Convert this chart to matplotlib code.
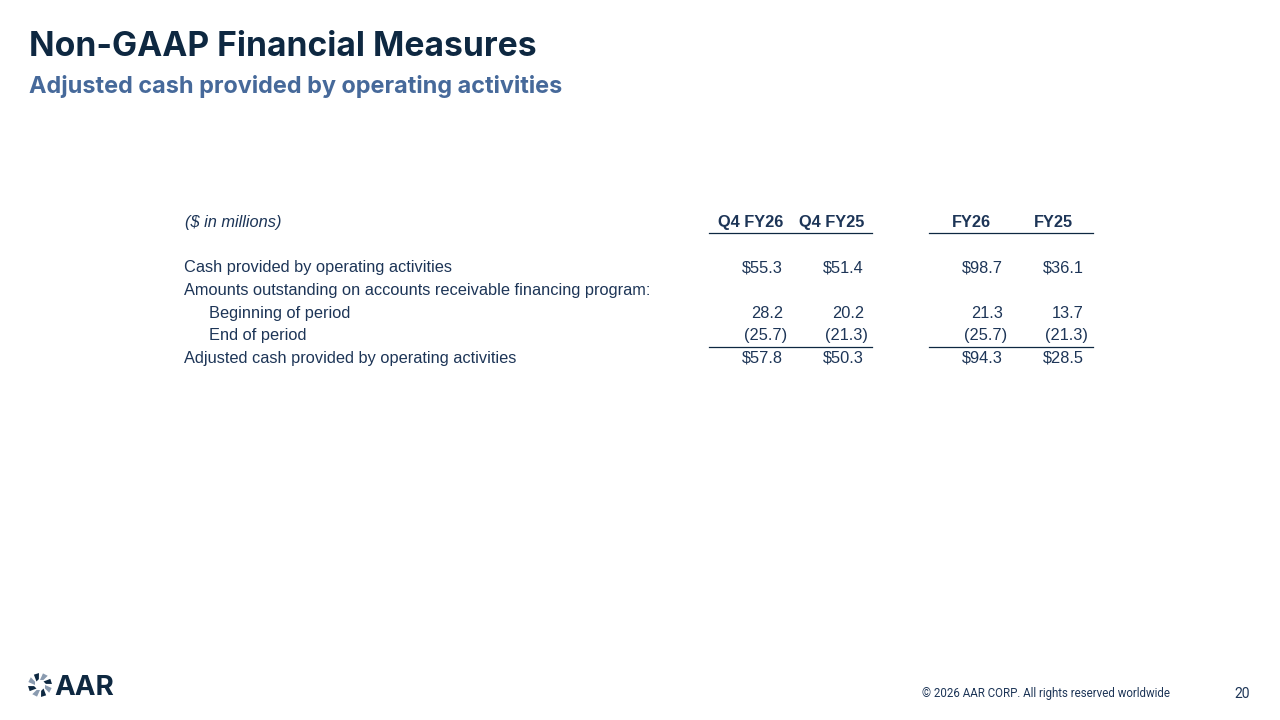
import numpy as np
import matplotlib
matplotlib.use('Agg')
import matplotlib.pyplot as plt
from matplotlib.patches import Polygon


title = 'Non-GAAP Financial Measures'
subtitle = 'Adjusted cash provided by operating activities'
unit_label = '($ in millions)'

col_labels = ['Q4 FY26', 'Q4 FY25', 'FY26', 'FY25']
row_labels = [
    'Cash provided by operating activities',
    'Amounts outstanding on accounts receivable financing program:',
    'Beginning of period',
    'End of period',
    'Adjusted cash provided by operating activities',
]
row_indent = [False, False, True, True, False]
dollar_rows = [0, 4]

q4_fy26 = [55.3, None, 28.2, -25.7, 57.8]
q4_fy25 = [51.4, None, 20.2, -21.3, 50.3]
fy26 = [98.7, None, 21.3, -25.7, 94.3]
fy25 = [36.1, None, 13.7, -21.3, 28.5]
columns = [q4_fy26, q4_fy25, fy26, fy25]

footer = '\u00a9 2026 AAR CORP. All rights reserved worldwide'
page_no = '20'

NAVY = '#0e2841'
STEEL = '#46699a'
TXT = '#1d3557'

fig = plt.figure(figsize=(12.8, 7.2), dpi=100)
ax = fig.add_axes([0, 0, 1, 1])
ax.set_xlim(0, 1280)
ax.set_ylim(720, 0)
ax.axis('off')

# headings
ax.text(29, 56, title, fontsize=24.2, fontweight='bold', color=NAVY,
        family='Inter', va='baseline', ha='left')
ax.text(29, 93, subtitle, fontsize=16.9, fontweight='bold', color=STEEL,
        family='Inter', va='baseline', ha='left')

# table layout
col_right = [783, 864, 1003, 1084]
col_center = [751, 832, 971, 1053]
line_spans = [(709, 872), (929, 1093)]
header_y = 227
row_y = [272, 295, 318, 340, 363]
tfont = dict(family='Liberation Sans', fontsize=11.75, color=TXT)

ax.text(185, header_y, unit_label, style='italic', va='baseline', ha='left', **tfont)
for lab, xc in zip(col_labels, col_center):
    ax.text(xc, header_y, lab, fontweight='bold', va='baseline', ha='center', **tfont)

for lab, ind, y in zip(row_labels, row_indent, row_y):
    ax.text(209 if ind else 184, y, lab, va='baseline', ha='left', **tfont)

for vals, xr in zip(columns, col_right):
    for i, (v, y) in enumerate(zip(vals, row_y)):
        if v is None:
            continue
        if v < 0:
            s = '(%.1f)' % abs(v)
            x = xr + 4
        else:
            s = ('$%.1f' if i in dollar_rows else '%.1f') % v
            x = xr
        ax.text(x, y, s, va='baseline', ha='right', **tfont)

for x0, x1 in line_spans:
    ax.plot([x0, x1], [233, 233], color=NAVY, lw=0.9)
    ax.plot([x0, x1], [347, 347], color=NAVY, lw=0.9)

# footer logo
cx, cy = 40, 685
for k in range(8):
    a0 = np.deg2rad(k * 45)
    a1 = np.deg2rad(k * 45 + 40)
    pts = [(cx + 5 * np.cos(a0), cy + 5 * np.sin(a0)),
           (cx + 12 * np.cos(a0 + 0.25), cy + 12 * np.sin(a0 + 0.25)),
           (cx + 12 * np.cos(a1), cy + 12 * np.sin(a1)),
           (cx + 6 * np.cos(a1 - 0.1), cy + 6 * np.sin(a1 - 0.1))]
    ax.add_patch(Polygon(pts, closed=True,
                         color=NAVY if k % 2 else '#8a9bb0', lw=0))
ax.text(54, 695, 'AAR', fontsize=20, fontweight='bold', color=NAVY,
        family='Inter', va='baseline', ha='left')

ax.text(1170, 697, footer, fontsize=8.3, color=TXT, family='Roboto',
        va='baseline', ha='right')
ax.text(1250, 698, page_no, fontsize=10, color=TXT, family='Roboto',
        va='baseline', ha='right')

fig.savefig('out.png', dpi=100)
